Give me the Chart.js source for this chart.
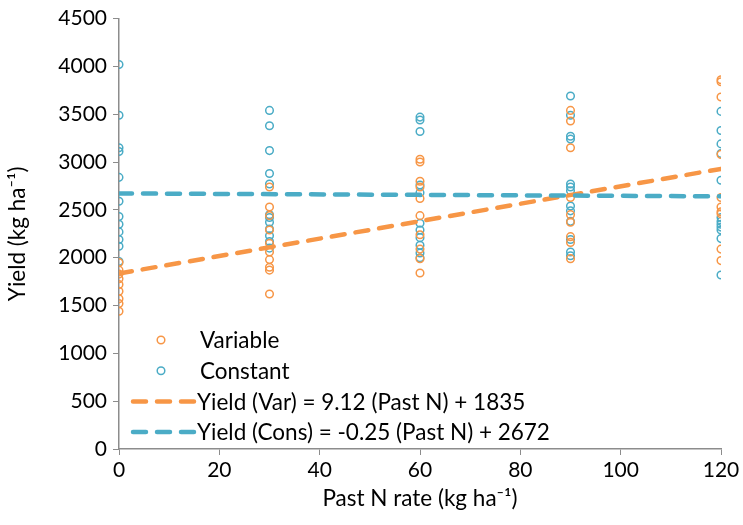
<!DOCTYPE html>
<html>
<head>
<meta charset="utf-8">
<script src="https://cdn.jsdelivr.net/npm/chart.js@4.4.0/dist/chart.umd.min.js"></script>
<style>
  html, body { margin: 0; padding: 0; background: #fff; }
  #wrap { width: 743px; height: 525px; }
</style>
</head>
<body>
<div id="wrap"><canvas id="chart" width="743" height="525"></canvas></div>
<script>
/* ───────────────────────────── Data */
const rates = [0, 30, 60, 90, 120];

const varYield = [
  [1870, 1830, 1780, 1720, 1650, 1570, 1520, 1440, 1950],
  [2740, 2530, 2440, 2290, 2150, 2060, 1980, 1900, 1870, 1620],
  [3030, 3000, 2800, 2740, 2620, 2440, 2240, 2090, 1990, 1840],
  [3540, 3430, 3150, 2630, 2450, 2370, 2220, 2160, 1990],
  [3860, 3840, 3680, 3080, 2630, 2530, 2480, 2460, 2090, 1970]
];

const conYield = [
  [4020, 3490, 3150, 3110, 2840, 2590, 2430, 2350, 2270, 2190, 2120, 1960],
  [3540, 3380, 3120, 2880, 2770, 2450, 2420, 2370, 2300, 2230, 2170, 2100],
  [3470, 3440, 3320, 2760, 2680, 2360, 2290, 2210, 2130, 2050, 2000],
  [3690, 3490, 3270, 3240, 2770, 2740, 2700, 2540, 2490, 2380, 2190, 2060, 2020],
  [3530, 3330, 3190, 3090, 2810, 2420, 2380, 2350, 2320, 2290, 2200, 1820]
];

const trendX    = [0, 120];
const varTrend  = [1835, 2929];
const conTrend  = [2672, 2642];

const labels = [
  'Variable',
  'Constant',
  'Yield (Var) = 9.12 (Past N) + 1835',
  'Yield (Cons) = -0.25 (Past N) + 2672'
];

const xTicks = [0, 20, 40, 60, 80, 100, 120];

/* ───────────────────────────── Helpers */
const ORANGE = '#F79646';
const BLUE   = '#4BACC6';
const AXIS   = '#8c8c8c';
const FONT   = "Lato, 'Open Sans', sans-serif";

const toPoints = groups => groups.flatMap((g, i) => g.map(y => ({ x: rates[i], y })));
const toLine   = ys => trendX.map((x, i) => ({ x, y: ys[i] }));

/* legend drawn inside the plot, lower-left */
const insideLegend = {
  id: 'insideLegend',
  afterDatasetsDraw(chart) {
    const ctx = chart.ctx;
    const x0 = 130, rowH = 30.7, y0 = 340;
    ctx.save();
    ctx.font = '22.5px ' + FONT;
    ctx.textBaseline = 'middle';
    chart.data.datasets.forEach((ds, i) => {
      const y = y0 + i * rowH;
      if (ds.type === 'line') {
        ctx.strokeStyle = ds.borderColor;
        ctx.lineWidth = 4.5;
        ctx.lineCap = 'round';
        ctx.setLineDash([13, 11]);
        ctx.beginPath();
        ctx.moveTo(x0 + 3, y);
        ctx.lineTo(x0 + 64, y);
        ctx.stroke();
        ctx.setLineDash([]);
      } else {
        ctx.strokeStyle = ds.borderColor;
        ctx.lineWidth = 1.5;
        ctx.beginPath();
        ctx.arc(x0 + 31, y, 3.8, 0, Math.PI * 2);
        ctx.stroke();
      }
      ctx.fillStyle = '#000';
      ctx.fillText(ds.label, ds.type === 'line' ? x0 + 67 : x0 + 70, y + 1);
    });
    ctx.restore();
  }
};

/* ───────────────────────────── Chart */
const ctx = document.getElementById('chart').getContext('2d');
new Chart(ctx, {
  type: 'scatter',
  data: {
    datasets: [
      { label: labels[0], data: toPoints(varYield), borderColor: ORANGE, backgroundColor: 'transparent',
        pointRadius: 3.8, borderWidth: 1.5, order: 2 },
      { label: labels[1], data: toPoints(conYield), borderColor: BLUE, backgroundColor: 'transparent',
        pointRadius: 3.8, borderWidth: 1.5, order: 3 },
      { type: 'line', label: labels[2], data: toLine(varTrend), borderColor: ORANGE, borderWidth: 4.5,
        borderDash: [13, 11], borderCapStyle: 'round', pointRadius: 0, fill: false, order: 1 },
      { type: 'line', label: labels[3], data: toLine(conTrend), borderColor: BLUE, borderWidth: 4.5,
        borderDash: [13, 11], borderCapStyle: 'round', pointRadius: 0, fill: false, order: 0 }
    ]
  },
  options: {
    responsive: false,
    animation: false,
    layout: { padding: { top: 18, right: 22, left: 0, bottom: 9 } },
    plugins: { legend: { display: false }, tooltip: { enabled: false } },
    scales: {
      x: {
        type: 'linear', min: 0, max: 120,
        afterBuildTicks: s => { s.ticks = xTicks.map(v => ({ value: v })); },
        afterFit: s => { s.height = 67; },
        grid: { drawOnChartArea: false, drawTicks: true, tickLength: 6, color: AXIS },
        border: { color: AXIS, width: 1.5 },
        ticks: { color: '#000', font: { family: FONT, size: 21 }, padding: 3, maxRotation: 0 },
        title: { display: true, text: 'Past N rate (kg ha\u207B\u00B9)', color: '#000',
                 font: { family: FONT, size: 22.5 }, padding: { top: 2 } }
      },
      y: {
        min: 0, max: 4500,
        ticks: { stepSize: 500, color: '#000', font: { family: FONT, size: 21 }, padding: 6,
                 callback: v => String(v) },
        afterFit: s => { s.width = 119; },
        grid: { drawOnChartArea: false, drawTicks: true, tickLength: 6, color: AXIS },
        border: { color: AXIS, width: 1.5 },
        title: { display: true, text: 'Yield (kg ha\u207B\u00B9)', color: '#000',
                 font: { family: FONT, size: 22.5 }, padding: { bottom: 0, top: 4 } }
      }
    }
  },
  plugins: [insideLegend]
});
</script>
</body>
</html>
